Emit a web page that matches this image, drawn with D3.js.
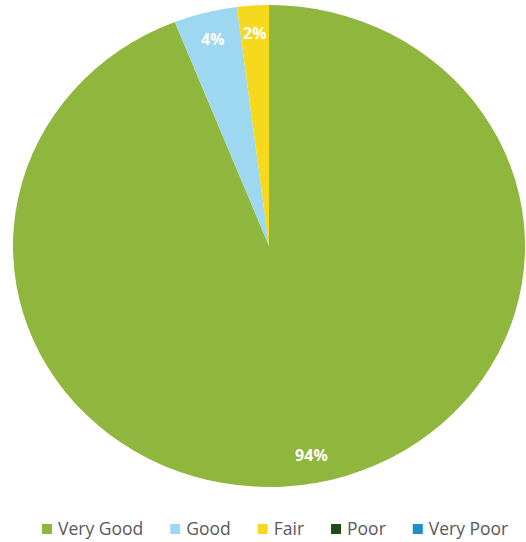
<!DOCTYPE html>
<html>
<head>
<meta charset="utf-8">
<script src="https://cdn.jsdelivr.net/npm/d3@7"></script>
<style>
  body { margin: 0; background: #fff; }
</style>
</head>
<body>
<div id="chart"></div>
<script>
var categories = ["Very Good", "Good", "Fair", "Poor", "Very Poor"];
var values = [94, 4, 2, 0, 0];
var labels = ["94%", "4%", "2%", "", ""];
var colors = ["#8fb63d", "#9ed8f0", "#f6d81c", "#1f4a17", "#1b8fc9"];

var svgW = 526;
var svgH = 542;
var cx = 269, cy = 246, rx = 256, ry = 241;

var svg = d3.select("#chart").append("svg")
    .attr("width", svgW).attr("height", svgH);

var data = categories.map(function(c, i) {
    return { name: c, value: values[i], label: labels[i], color: colors[i] };
});

var pie = d3.pie().sort(null).value(d => d.value);
var arc = d3.arc().innerRadius(0).outerRadius(ry);
var labelArc = d3.arc().innerRadius(ry * 0.885).outerRadius(ry * 0.885);

// photo is slightly stretched horizontally, so draw the pie as an ellipse
var pieGroup = svg.append("g")
    .attr("transform", `translate(${cx}, ${cy}) scale(${rx / ry}, 1)`);

var arcs = pie(data).filter(d => d.data.value > 0);

pieGroup.selectAll("path")
    .data(arcs).enter().append("path")
    .attr("d", arc)
    .attr("fill", d => d.data.color);

svg.append("g")
    .attr("transform", `translate(${cx}, ${cy})`)
    .selectAll("text")
    .data(arcs).enter().append("text")
    .attr("transform", function(d) {
        var c = labelArc.centroid(d);
        return `translate(${c[0] * rx / ry}, ${c[1]})`;
    })
    .attr("dy", "0.35em")
    .attr("text-anchor", "middle")
    .attr("font-family", "Open Sans, sans-serif")
    .attr("font-weight", "bold")
    .attr("font-size", 16)
    .attr("fill", "#ffffff")
    .text(d => d.data.label);

// legend
var legend = svg.append("g").attr("transform", "translate(0, 529)");
var items = legend.selectAll("g")
    .data(data).enter().append("g");

items.append("rect")
    .attr("width", 10).attr("height", 10)
    .attr("y", -5)
    .attr("fill", d => d.color);

items.append("text")
    .attr("x", 16)
    .attr("dy", "0.35em")
    .attr("font-family", "Open Sans, sans-serif")
    .attr("font-size", 17.5)
    .attr("fill", "#595959")
    .text(d => d.name);

var gap = 27;
var widths = [];
items.each(function() { widths.push(this.getBBox().width); });
var x = 42;
items.each(function(d, i) {
    d3.select(this).attr("transform", `translate(${x}, 0)`);
    x += widths[i] + gap;
});
</script>
</body>
</html>
